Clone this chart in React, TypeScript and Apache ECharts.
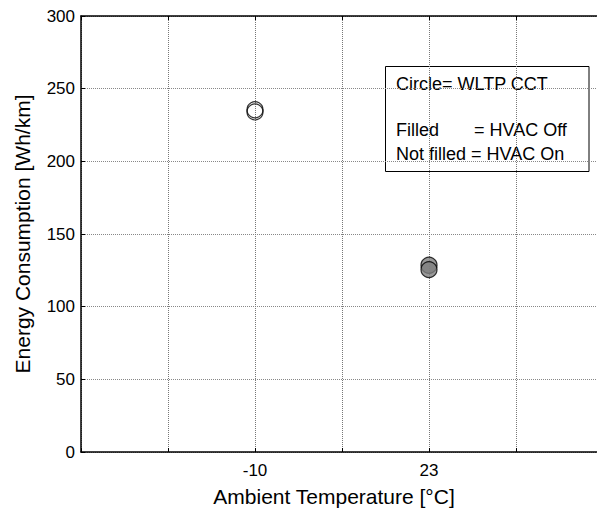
import React, { useEffect, useRef } from "react";
import * as echarts from "echarts";

const xTickLabels = ["", "-10", "", "23", ""];
const hvacOnTemps = ["-10", "-10"];
const hvacOnValues = [235.5, 234];
const hvacOffTemps = ["23", "23"];
const hvacOffValues = [128.5, 125.5];
const yMin = 0;
const yMax = 300;
const yStep = 50;
const xMax = 5.931;

const FONT = "'Liberation Sans', Arial, sans-serif";

export default function App() {
  const ref = useRef<HTMLDivElement>(null);
  useEffect(() => {
    if (!ref.current) return;
    const chart = echarts.init(ref.current, undefined, { renderer: "svg" });
    const xOf = (t: string) => xTickLabels.indexOf(t) + 1;
    const onData = hvacOnTemps.map((t, i) => [xOf(t), hvacOnValues[i]]);
    const offData = hvacOffTemps.map((t, i) => [xOf(t), hvacOffValues[i]]);
    const labelFmt = (v: number) => {
      if (Math.abs(v - Math.round(v)) > 1e-6) return "";
      const i = Math.round(v) - 1;
      return i >= 0 && i < xTickLabels.length ? xTickLabels[i] : "";
    };
    chart.setOption({
      animation: false,
      backgroundColor: "#ffffff",
      textStyle: { fontFamily: FONT },
      grid: { left: 81, top: 16, bottom: 61, right: 0, containLabel: false },
      xAxis: [
        {
          type: "value",
          min: 0,
          max: xMax,
          interval: 1,
          position: "bottom",
          axisLine: { show: true, lineStyle: { color: "#000", width: 1.5 } },
          axisTick: { show: true, inside: true, length: 4, lineStyle: { color: "#000" } },
          axisLabel: {
            show: true,
            formatter: labelFmt,
            color: "#000",
            fontSize: 17,
            fontFamily: FONT,
            margin: 10,
            showMaxLabel: false,
          },
          splitLine: { show: true, lineStyle: { color: "#777", type: "dotted", width: 1 } },
        },
        {
          type: "value",
          min: 0,
          max: xMax,
          interval: 1,
          position: "top",
          axisLine: { show: true, lineStyle: { color: "#000", width: 1.5 } },
          axisTick: { show: true, inside: true, length: 4, lineStyle: { color: "#000" } },
          axisLabel: { show: false },
          splitLine: { show: false },
        },
      ],
      yAxis: {
        type: "value",
        min: yMin,
        max: yMax,
        interval: yStep,
        name: "Energy Consumption [Wh/km]",
        nameLocation: "middle",
        nameGap: 48,
        nameTextStyle: { color: "#000", fontSize: 21, fontFamily: FONT },
        axisLine: { show: true, lineStyle: { color: "#000", width: 1.5 } },
        axisTick: { show: true, inside: true, length: 4, lineStyle: { color: "#000" } },
        axisLabel: { color: "#000", fontSize: 17, fontFamily: FONT, margin: 6 },
        splitLine: { show: true, lineStyle: { color: "#888", type: "dotted", width: 1 } },
      },
      series: [
        {
          type: "scatter",
          name: "HVAC On",
          data: onData,
          symbol: "circle",
          symbolSize: 16,
          itemStyle: { color: "rgba(255,255,255,0)", borderColor: "#000", borderWidth: 1.2 },
        },
        {
          type: "scatter",
          name: "HVAC Off",
          data: offData,
          symbol: "circle",
          symbolSize: 16,
          itemStyle: { color: "#808080", borderColor: "#000", borderWidth: 1.2 },
        },
      ],
      graphic: [
        {
          type: "text",
          x: 334,
          y: 496,
          style: {
            text: "Ambient Temperature [°C]",
            fill: "#000",
            fontSize: 21,
            fontFamily: FONT,
            align: "center",
            verticalAlign: "middle",
          },
        },
        {
          type: "group",
          z: 100,
          children: [
            {
              type: "rect",
              shape: { x: 385.5, y: 66.5, width: 203.5, height: 105 },
              style: { fill: "#fff", stroke: "#000", lineWidth: 1 },
            },
            {
              type: "text",
              x: 396,
              y: 84,
              style: { text: "Circle= WLTP CCT", fill: "#000", fontSize: 18, fontFamily: FONT, verticalAlign: "middle" },
            },
            {
              type: "text",
              x: 396,
              y: 130,
              style: { text: "Filled", fill: "#000", fontSize: 18, fontFamily: FONT, verticalAlign: "middle" },
            },
            {
              type: "text",
              x: 474,
              y: 130,
              style: { text: "= HVAC Off", fill: "#000", fontSize: 18, fontFamily: FONT, verticalAlign: "middle" },
            },
            {
              type: "text",
              x: 396,
              y: 153.5,
              style: { text: "Not filled = HVAC On", fill: "#000", fontSize: 18, fontFamily: FONT, verticalAlign: "middle" },
            },
          ],
        },
      ],
    });
    return () => chart.dispose();
  }, []);
  return (
    <div
      ref={ref}
      style={{ position: "fixed", left: 0, top: 0, width: 597, height: 513, background: "#fff" }}
    />
  );
}
